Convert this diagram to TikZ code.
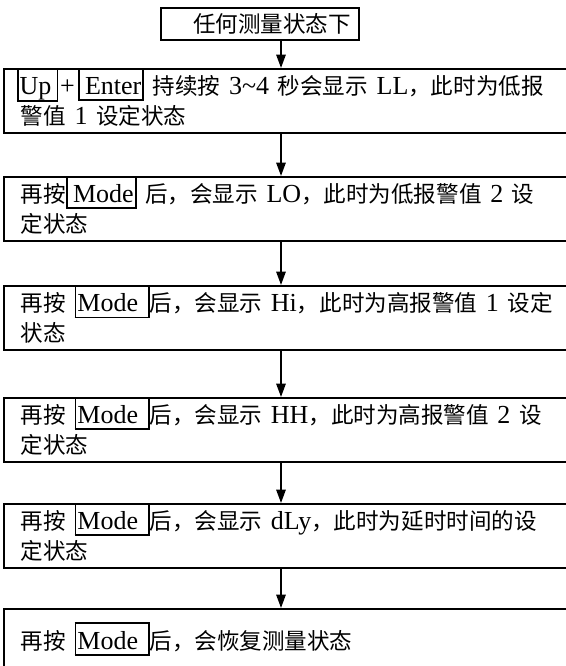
\documentclass[tikz,border=0pt]{standalone}
\usepackage{fontspec}
\setmainfont{Liberation Serif}
\newfontfamily\zhfont{Noto Sans CJK SC}[Scale=0.867]
\usetikzlibrary{arrows.meta}
\newcommand{\zh}[1]{{\zhfont #1}}
\newcommand{\keybox}[1]{\smash{\setlength{\fboxsep}{0pt}\setlength{\fboxrule}{1.3pt}\fbox{\rule[-3.75pt]{0pt}{22.5pt}\kern0.8pt#1\kern0.8pt}}}

\begin{document}
\begin{tikzpicture}[x=0.75pt,y=-0.75pt,
  font=\fontsize{19.5pt}{22.5pt}\selectfont,
  stage/.style={draw, line width=1.3pt, anchor=north west, minimum height=48pt,
    text width=420pt, inner xsep=12.75pt, inner ysep=0pt, align=left},
  arr/.style={line width=1.3pt, -{Triangle[length=10pt,width=7pt]}}]
\useasboundingbox (0,0) rectangle (566,666);
\clip (0,0) rectangle (566,666);
\node[draw, line width=1.3pt, anchor=north west, minimum height=24pt, text width=136.5pt,
  inner xsep=6pt, inner ysep=0pt, align=right] (start) at (160,7) {\zh{任何测量状态下}};
\node[stage] (s1) at (3,68) {\kern-3pt\keybox{Up\kern3pt}\kern1.5pt+\kern2.5pt\keybox{\kern3pt Enter} \zh{持续按} 3\textasciitilde 4 \zh{秒会显示} LL\zh{，此时为低报}\\ \zh{警值} 1 \zh{设定状态}};
\node[stage] (s2) at (3,176) {\zh{再按}\keybox{\,Mode}\ \zh{后，会显示} LO\zh{，此时为低报警值} 2 \zh{设}\\ \zh{定状态}};
\node[stage] (s3) at (3,285) {\zh{再按} \keybox{Mode\ }\zh{后，会显示} Hi\zh{，此时为高报警值} 1 \zh{设定}\\ \zh{状态}};
\node[stage] (s4) at (3,397) {\zh{再按} \keybox{Mode\ }\zh{后，会显示} HH\zh{，此时为高报警值} 2 \zh{设}\\ \zh{定状态}};
\node[stage] (s5) at (3,503) {\zh{再按} \keybox{Mode\ }\zh{后，会显示} dLy\zh{，此时为延时时间的设}\\ \zh{定状态}};
\node[stage] (s6) at (3,608) {\zh{再按} \keybox{Mode\ }\zh{后，会恢复测量状态}};
\coordinate (ax) at (281,0);
\path[draw,arr] (start.south -| ax) -- (s1.north -| ax);
\path[draw,arr] (s1.south -| ax) -- (s2.north -| ax);
\path[draw,arr] (s2.south -| ax) -- (s3.north -| ax);
\path[draw,arr] (s3.south -| ax) -- (s4.north -| ax);
\path[draw,arr] (s4.south -| ax) -- (s5.north -| ax);
\path[draw,arr] (s5.south -| ax) -- (s6.north -| ax);
\end{tikzpicture}
\end{document}
